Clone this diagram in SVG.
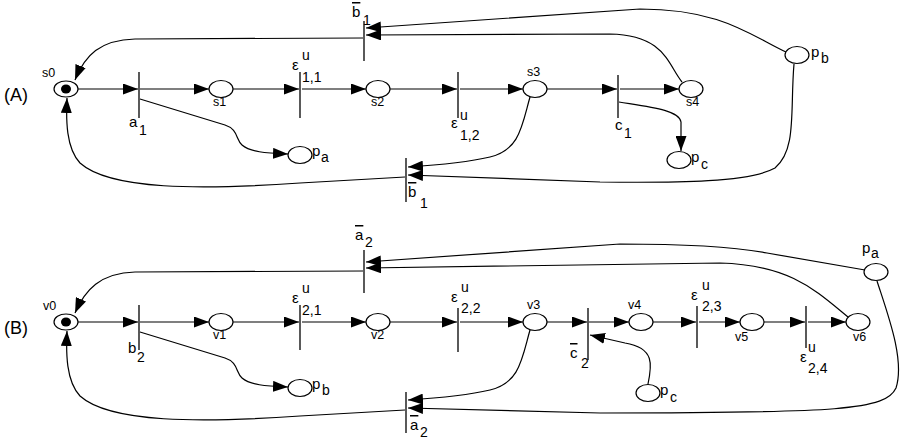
<svg xmlns="http://www.w3.org/2000/svg" width="906" height="441" viewBox="0 0 906 441">
<style>
text{font-family:"Liberation Sans",Arial,sans-serif;fill:#000}
.pl{fill:#fff;stroke:#000;stroke-width:1.2}
.tr{stroke:#000;stroke-width:1.3}
.c{fill:none;stroke:#000;stroke-width:1.2}
.n{font-size:12.5px}
.lb{font-size:15px}
.sb{font-size:14px}
.hd{font-size:18px}
.ov{text-decoration:overline}
</style>
<defs>
<marker id="ah" viewBox="0 0 15 11" refX="15" refY="5.5" markerWidth="15" markerHeight="11" orient="auto" markerUnits="userSpaceOnUse"><path d="M0,0 L15,5.5 L0,11 z" fill="#000"/></marker>
</defs>
<rect width="906" height="441" fill="#fff"/>
<text class="hd" x="4" y="101">(A)</text>
<text class="hd" x="4" y="334">(B)</text>
<g id="connectors" class="c" marker-end="url(#ah)">
<path d="M78,89 L138,89"/>
<path d="M140,89 L209,89"/>
<path d="M233,89 L299,89"/>
<path d="M302,89 L366,89"/>
<path d="M390,89 L457,89"/>
<path d="M460,89 L523,89"/>
<path d="M547,89 L617,89"/>
<path d="M620,89 L679,89"/>
<path d="M140,99 L225,125 C238,129 236,140 242,145 C250,152 265,153 288,154"/>
<path d="M619,102 C650,107 679,110 681,122 L681,151"/>
<path d="M786,52 C750,35 720,9 640,9 L366,28"/>
<path d="M682,82 C668,65 665,35 610,34 L366,35"/>
<path d="M363,38 L135,39 C100,40 85,55 75,80"/>
<path d="M530,97 C522,125 520,150 490,157 C465,163 440,165 408,167"/>
<path d="M794,64 C790,110 797,150 775,168 C750,182 680,183 600,182 L408,175"/>
<path d="M405,177 L300,183 C200,190 110,190 80,163 C66,148 66,120 67,98"/>
<path d="M78,322 L138,322"/>
<path d="M140,322 L209,322"/>
<path d="M233,322 L299,322"/>
<path d="M302,322 L366,322"/>
<path d="M390,322 L457,322"/>
<path d="M460,322 L523,322"/>
<path d="M547,322 L587,322"/>
<path d="M589,322 L629,322"/>
<path d="M653,322 L696,322"/>
<path d="M699,322 L740,322"/>
<path d="M764,322 L805,322"/>
<path d="M808,322 L846,322"/>
<path d="M140,332 L225,358 C238,362 236,373 242,378 C250,385 265,386 288,387"/>
<path d="M648,384 C652,365 655,348 625,343 L590,335"/>
<path d="M865,270 L767,253 C740,248 700,244 620,244 L366,262"/>
<path d="M848,317 C815,290 790,265 720,263 L366,268"/>
<path d="M363,271 L135,272 C100,273 85,290 75,313"/>
<path d="M530,330 C522,358 520,383 490,390 C465,396 440,398 408,400"/>
<path d="M877,281 C888,315 905,360 896,388 C886,410 840,413 600,413 L408,408"/>
<path d="M405,410 L300,416 C200,423 110,423 80,396 C66,381 66,353 67,331"/>
</g>
<g id="s0"><ellipse class="pl" cx="66" cy="89" rx="12" ry="8"/><ellipse cx="66" cy="89" rx="5" ry="4.5"/><text class="n" x="42" y="77">s0</text></g>
<g id="s1"><ellipse class="pl" cx="221" cy="89" rx="12" ry="8.5"/><text class="n" x="213" y="106">s1</text></g>
<g id="s2"><ellipse class="pl" cx="378" cy="89" rx="12" ry="8.5"/><text class="n" x="371" y="106">s2</text></g>
<g id="s3"><ellipse class="pl" cx="535" cy="89" rx="12" ry="8.5"/><text class="n" x="527" y="76">s3</text></g>
<g id="s4"><ellipse class="pl" cx="691" cy="89" rx="12" ry="8.5"/><text class="n" x="686" y="106">s4</text></g>
<g id="pa_A"><ellipse class="pl" cx="300" cy="155" rx="12" ry="8.5"/><text class="lb" x="312" y="156">p</text><text class="sb" x="321" y="162">a</text></g>
<g id="pc_A"><ellipse class="pl" cx="679" cy="160" rx="12" ry="8.5"/><text class="lb" x="691" y="162">p</text><text class="sb" x="701" y="169">c</text></g>
<g id="pb_A"><ellipse class="pl" cx="797" cy="55" rx="12" ry="8.5"/><text class="lb" x="811" y="57">p</text><text class="sb" x="821" y="63">b</text></g>
<g id="a1"><line class="tr" x1="139" y1="72" x2="139" y2="118"/><text class="lb" x="129" y="127">a</text><text class="sb" x="139" y="135">1</text></g>
<g id="e11"><line class="tr" x1="300" y1="72" x2="300" y2="118"/><text class="lb" x="292" y="70">ε</text><text class="sb" x="302" y="60">u</text><text class="sb" x="302" y="82">1,1</text></g>
<g id="e12"><line class="tr" x1="458" y1="72" x2="458" y2="118"/><text class="lb" x="451" y="128">ε</text><text class="sb" x="460" y="120">u</text><text class="sb" x="460" y="140">1,2</text></g>
<g id="c1"><line class="tr" x1="618" y1="75" x2="618" y2="118"/><text class="lb" x="615" y="130">c</text><text class="sb" x="624" y="138">1</text></g>
<g id="b1_top"><line class="tr" x1="364" y1="21" x2="364" y2="61"/><text class="lb ov" x="352" y="17">b</text><text class="sb" x="363" y="25">1</text></g>
<g id="b1_bottom"><line class="tr" x1="406" y1="158" x2="406" y2="202"/><text class="lb ov" x="408" y="197">b</text><text class="sb" x="420" y="208">1</text></g>
<g id="v0"><ellipse class="pl" cx="66" cy="322" rx="12" ry="8"/><ellipse cx="66" cy="322" rx="5" ry="4.5"/><text class="n" x="43" y="310">v0</text></g>
<g id="v1"><ellipse class="pl" cx="221" cy="322" rx="12" ry="8.5"/><text class="n" x="213" y="339">v1</text></g>
<g id="v2"><ellipse class="pl" cx="378" cy="322" rx="12" ry="8.5"/><text class="n" x="371" y="339">v2</text></g>
<g id="v3"><ellipse class="pl" cx="535" cy="322" rx="12" ry="8.5"/><text class="n" x="527" y="309">v3</text></g>
<g id="v4"><ellipse class="pl" cx="641" cy="322" rx="12" ry="8.5"/><text class="n" x="628" y="309">v4</text></g>
<g id="v5"><ellipse class="pl" cx="752" cy="322" rx="12" ry="8.5"/><text class="n" x="735" y="341">v5</text></g>
<g id="v6"><ellipse class="pl" cx="858" cy="322" rx="12" ry="8.5"/><text class="n" x="853" y="341">v6</text></g>
<g id="pb_B"><ellipse class="pl" cx="300" cy="388" rx="12" ry="8.5"/><text class="lb" x="312" y="389">p</text><text class="sb" x="322" y="395">b</text></g>
<g id="pc_B"><ellipse class="pl" cx="648" cy="393" rx="12" ry="8.5"/><text class="lb" x="660" y="395">p</text><text class="sb" x="670" y="402">c</text></g>
<g id="pa_B"><ellipse class="pl" cx="876" cy="272" rx="12" ry="8.5"/><text class="lb" x="862" y="253">p</text><text class="sb" x="871" y="258">a</text></g>
<g id="b2"><line class="tr" x1="139" y1="305" x2="139" y2="350"/><text class="lb" x="128" y="353">b</text><text class="sb" x="137" y="362">2</text></g>
<g id="e21"><line class="tr" x1="300" y1="305" x2="300" y2="350"/><text class="lb" x="292" y="303">ε</text><text class="sb" x="302" y="293">u</text><text class="sb" x="302" y="315">2,1</text></g>
<g id="e22"><line class="tr" x1="458" y1="308" x2="458" y2="352"/><text class="lb" x="451" y="302">ε</text><text class="sb" x="461" y="292">u</text><text class="sb" x="461" y="313">2,2</text></g>
<g id="c2"><line class="tr" x1="588" y1="308" x2="588" y2="360"/><text class="lb ov" x="570" y="358">c</text><text class="sb" x="581" y="368">2</text></g>
<g id="e23"><line class="tr" x1="697" y1="306" x2="697" y2="348"/><text class="lb" x="691" y="300">ε</text><text class="sb" x="702" y="290">u</text><text class="sb" x="702" y="311">2,3</text></g>
<g id="e24"><line class="tr" x1="806" y1="306" x2="806" y2="348"/><text class="lb" x="800" y="362">ε</text><text class="sb" x="808" y="352">u</text><text class="sb" x="808" y="373">2,4</text></g>
<g id="a2_top"><line class="tr" x1="364" y1="250" x2="364" y2="293"/><text class="lb ov" x="355" y="240">a</text><text class="sb" x="365" y="247">2</text></g>
<g id="a2_bottom"><line class="tr" x1="406" y1="392" x2="406" y2="433"/><text class="lb ov" x="410" y="430">a</text><text class="sb" x="420" y="437">2</text></g>
</svg>
